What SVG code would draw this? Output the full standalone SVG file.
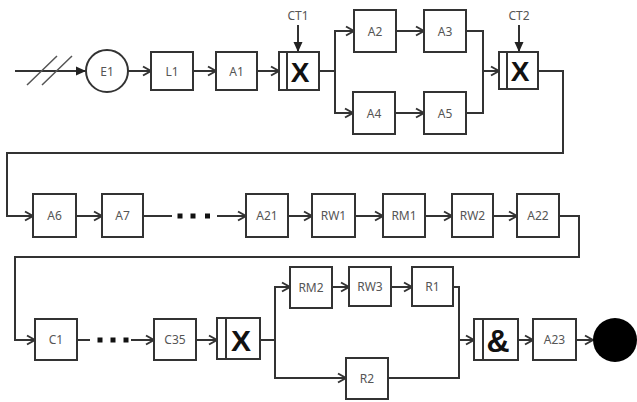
<svg xmlns="http://www.w3.org/2000/svg" width="637" height="402" viewBox="0 0 637 402">
<defs>
<style>
.box{fill:#fff;stroke:#333;stroke-width:2}
.lbl{font-family:"Noto Sans","Open Sans",sans-serif;font-size:12px;fill:#555;text-anchor:middle;dominant-baseline:central}
.big{font-family:"Liberation Sans",Arial,sans-serif;font-weight:bold;fill:#111;text-anchor:middle;dominant-baseline:central}
.ln{fill:none;stroke:#333;stroke-width:2}
.sl{fill:none;stroke:#555;stroke-width:1.5}
.dot{fill:#111}
</style>
<marker id="open" markerWidth="12" markerHeight="12" refX="10" refY="6" orient="auto" markerUnits="userSpaceOnUse">
<path d="M2,1.5 L10,6 L2,10.5" fill="none" stroke="#333" stroke-width="2"/>
</marker>
<marker id="fill" markerWidth="11" markerHeight="11" refX="10" refY="5.5" orient="auto" markerUnits="userSpaceOnUse">
<path d="M0,1 L10,5.5 L0,10 z" fill="#222"/>
</marker>
</defs>
<g id="connectors">
<path class="ln" d="M15,71 H86" marker-end="url(#fill)"/>
<path class="sl" d="M27,85 L57,56 M42,85 L72,56"/>
<path class="ln" d="M128,71 H151" marker-end="url(#open)"/>
<path class="ln" d="M193,71 H216" marker-end="url(#open)"/>
<path class="ln" d="M257,71 H279" marker-end="url(#open)"/>
<path class="ln" d="M298,25 V52" marker-end="url(#fill)"/>
<path class="ln" d="M319,71 H335"/>
<path class="ln" d="M335,71 V31 H354" marker-end="url(#open)"/>
<path class="ln" d="M335,71 V113 H353" marker-end="url(#open)"/>
<path class="ln" d="M396,31 H424" marker-end="url(#open)"/>
<path class="ln" d="M395,113 H424" marker-end="url(#open)"/>
<path class="ln" d="M466,31 H483 V113 H466"/>
<path class="ln" d="M483,71 H499" marker-end="url(#open)"/>
<path class="ln" d="M519,25 V52" marker-end="url(#fill)"/>
<path class="ln" d="M538,71 H563 V153 H7 V216 H33" marker-end="url(#open)"/>
<path class="ln" d="M76,216 H102" marker-end="url(#open)"/>
<path class="ln" d="M143,216 H172"/>
<rect class="dot" x="177.5" y="213.5" width="5" height="5"/>
<rect class="dot" x="190.5" y="213.5" width="5" height="5"/>
<rect class="dot" x="205" y="213.5" width="5" height="5"/>
<path class="ln" d="M217,216 H246" marker-end="url(#open)"/>
<path class="ln" d="M288,216 H312" marker-end="url(#open)"/>
<path class="ln" d="M355,216 H383" marker-end="url(#open)"/>
<path class="ln" d="M425,216 H452" marker-end="url(#open)"/>
<path class="ln" d="M493,216 H517" marker-end="url(#open)"/>
<path class="ln" d="M559,216 H579 V257 H15 V340 H35" marker-end="url(#open)"/>
<path class="ln" d="M77,340 H90"/>
<rect class="dot" x="97.5" y="337.5" width="5" height="5"/>
<rect class="dot" x="110.5" y="337.5" width="5" height="5"/>
<rect class="dot" x="123.5" y="337.5" width="5" height="5"/>
<path class="ln" d="M131,340 H154" marker-end="url(#open)"/>
<path class="ln" d="M196,340 H217" marker-end="url(#open)"/>
<path class="ln" d="M260,340 H275"/>
<path class="ln" d="M275,340 V287 H290" marker-end="url(#open)"/>
<path class="ln" d="M275,340 V378 H346" marker-end="url(#open)"/>
<path class="ln" d="M332,287 H349" marker-end="url(#open)"/>
<path class="ln" d="M391,287 H412" marker-end="url(#open)"/>
<path class="ln" d="M453,287 H459 V378 H388"/>
<path class="ln" d="M459,340 H474" marker-end="url(#open)"/>
<path class="ln" d="M518,340 H533" marker-end="url(#open)"/>
<path class="ln" d="M576,340 H593" marker-end="url(#open)"/>
</g>
<g id="E1"><circle class="box" cx="107" cy="71" r="21"/><text class="lbl" x="107" y="71">E1</text></g>
<g id="L1"><rect class="box" x="151" y="52" width="42" height="38"/><text class="lbl" x="172" y="71">L1</text></g>
<g id="A1"><rect class="box" x="216" y="52" width="41" height="38"/><text class="lbl" x="236.5" y="71">A1</text></g>
<g id="CT1-label"><text class="lbl" x="298" y="15">CT1</text></g>
<g id="G1"><rect class="box" x="279" y="52" width="40" height="38"/><path class="ln" d="M287,52 V90"/><text class="big" x="300" y="72" font-size="28">X</text></g>
<g id="A2"><rect class="box" x="354" y="10" width="42" height="42"/><text class="lbl" x="375" y="31">A2</text></g>
<g id="A3"><rect class="box" x="424" y="10" width="42" height="42"/><text class="lbl" x="445" y="31">A3</text></g>
<g id="A4"><rect class="box" x="353" y="92" width="42" height="42"/><text class="lbl" x="374" y="113">A4</text></g>
<g id="A5"><rect class="box" x="424" y="92" width="42" height="42"/><text class="lbl" x="445" y="113">A5</text></g>
<g id="CT2-label"><text class="lbl" x="519" y="15">CT2</text></g>
<g id="G2"><rect class="box" x="499" y="52" width="39" height="37"/><path class="ln" d="M507,52 V89"/><text class="big" x="520" y="71" font-size="28">X</text></g>
<g id="A6"><rect class="box" x="33" y="194" width="43" height="43"/><text class="lbl" x="54.5" y="215.5">A6</text></g>
<g id="A7"><rect class="box" x="102" y="194" width="41" height="43"/><text class="lbl" x="122.5" y="215.5">A7</text></g>
<g id="A21"><rect class="box" x="246" y="194" width="42" height="43"/><text class="lbl" x="267" y="215.5">A21</text></g>
<g id="RW1"><rect class="box" x="312" y="194" width="43" height="43"/><text class="lbl" x="333.5" y="215.5">RW1</text></g>
<g id="RM1"><rect class="box" x="383" y="194" width="42" height="43"/><text class="lbl" x="404" y="215.5">RM1</text></g>
<g id="RW2"><rect class="box" x="452" y="194" width="41" height="43"/><text class="lbl" x="472.5" y="215.5">RW2</text></g>
<g id="A22"><rect class="box" x="517" y="194" width="42" height="43"/><text class="lbl" x="538" y="215.5">A22</text></g>
<g id="C1"><rect class="box" x="35" y="319" width="42" height="41"/><text class="lbl" x="56" y="339.5">C1</text></g>
<g id="C35"><rect class="box" x="154" y="319" width="42" height="41"/><text class="lbl" x="175" y="339.5">C35</text></g>
<g id="G3"><rect class="box" x="217" y="318" width="43" height="41"/><path class="ln" d="M226,318 V359"/><text class="big" x="241" y="340" font-size="30">X</text></g>
<g id="RM2"><rect class="box" x="290" y="267" width="42" height="41"/><text class="lbl" x="311" y="287.5">RM2</text></g>
<g id="RW3"><rect class="box" x="349" y="267" width="42" height="39"/><text class="lbl" x="370" y="286.5">RW3</text></g>
<g id="R1"><rect class="box" x="412" y="267" width="41" height="39"/><text class="lbl" x="432.5" y="286.5">R1</text></g>
<g id="R2"><rect class="box" x="346" y="358" width="42" height="41"/><text class="lbl" x="367" y="378.5">R2</text></g>
<g id="G4"><rect class="box" x="474" y="319" width="44" height="41"/><path class="ln" d="M483,319 V360"/><text class="big" x="498" y="341" font-size="32">&amp;</text></g>
<g id="A23"><rect class="box" x="533" y="319" width="43" height="41"/><text class="lbl" x="554.5" y="339.5">A23</text></g>
<g id="End"><circle cx="615" cy="340" r="22" fill="#000"/></g>
</svg>
